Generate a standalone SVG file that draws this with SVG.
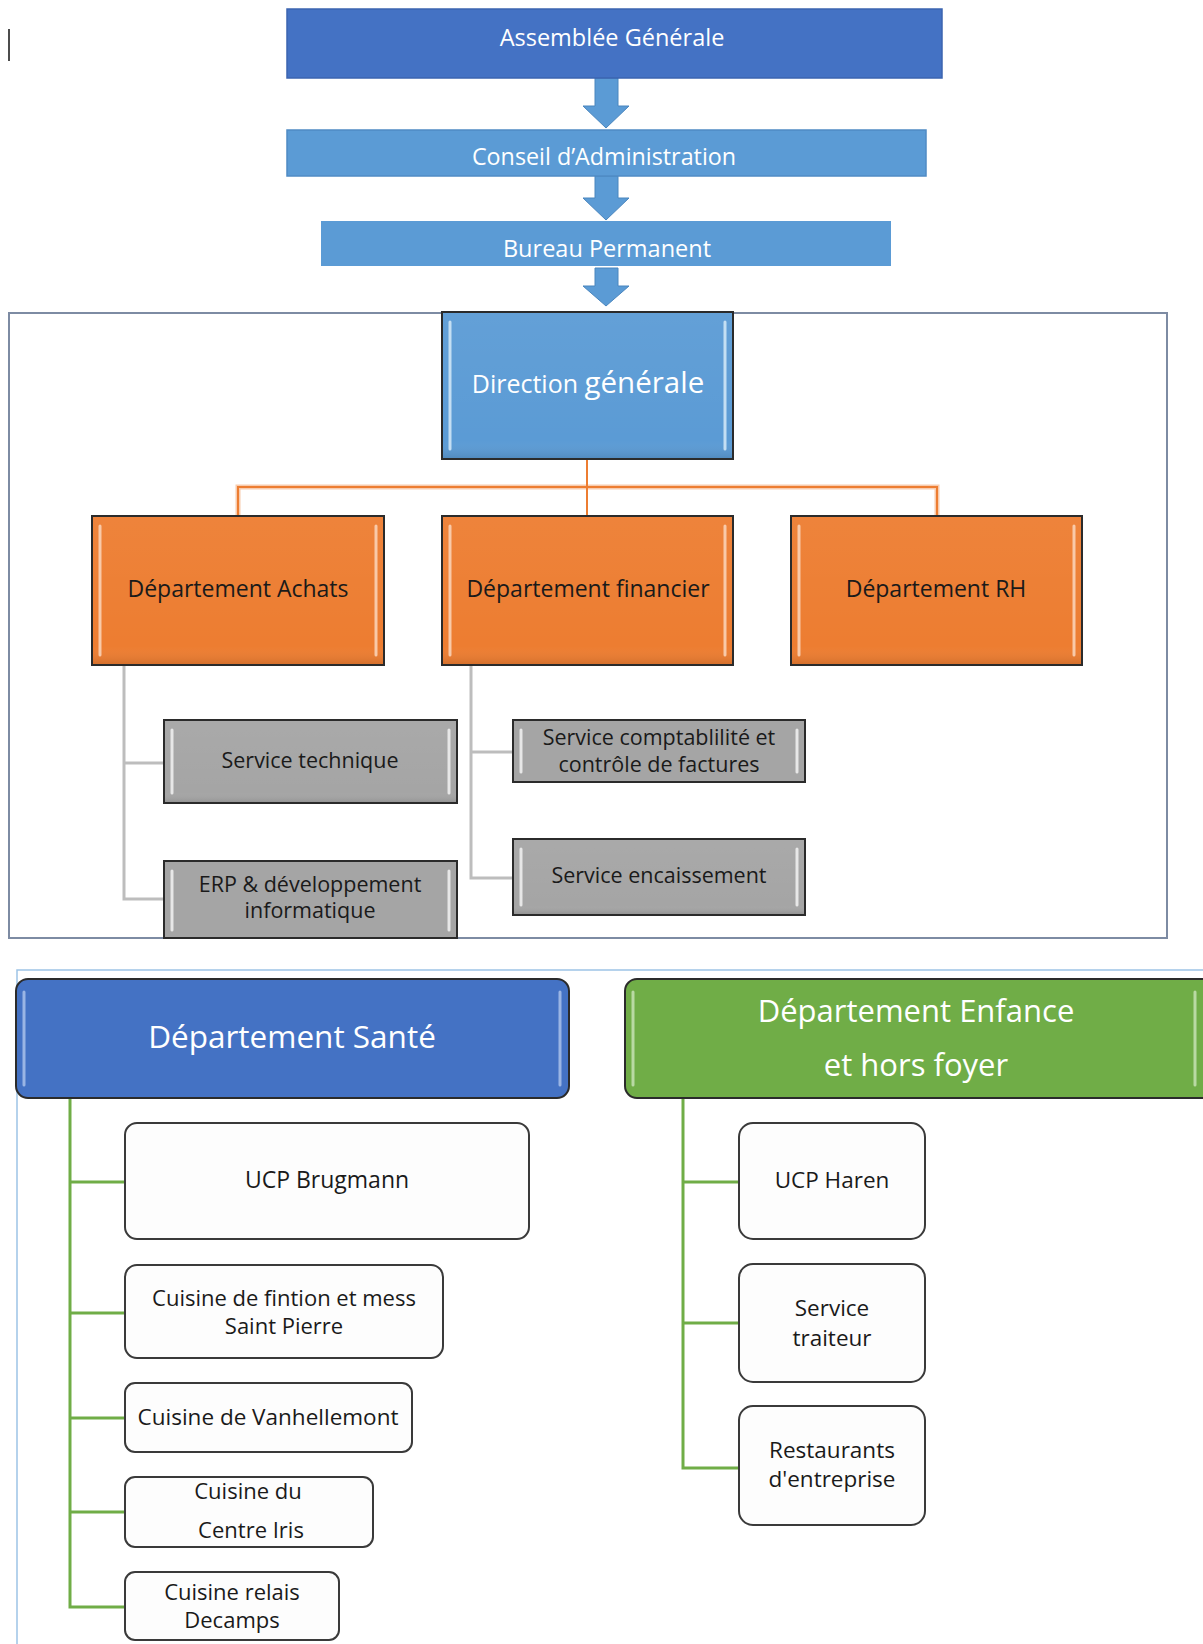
<svg xmlns="http://www.w3.org/2000/svg" width="1203" height="1644" viewBox="0 0 1203 1644">
<style>
text{font-family:"Open Sans","Noto Sans","Liberation Sans",sans-serif;text-anchor:middle}
.w{fill:#ffffff}
.k{fill:#1a1a1a}
.bev{fill:none;stroke-width:3;stroke-linecap:round;stroke-opacity:0.85}
.box{stroke:#2b2b2b;stroke-width:2}
.org{fill:#ED7D31}
.gry{fill:#A5A5A5}
.leaf{fill:#FDFDFD;stroke:#3a3a3a;stroke-width:2}
.arr{fill:#5B9BD5;stroke:#4A86BE;stroke-width:1}
</style>
<defs>
<linearGradient id="gloss" x1="0" y1="0" x2="0" y2="1">
<stop offset="0" stop-color="#ffffff" stop-opacity="0.05"/>
<stop offset="0.88" stop-color="#ffffff" stop-opacity="0"/>
<stop offset="1" stop-color="#000000" stop-opacity="0.1"/>
</linearGradient>
</defs>

<line x1="9" y1="29" x2="9" y2="61" stroke="#111" stroke-width="1.5"/>

<!-- frames -->
<rect x="9" y="313" width="1158" height="625" fill="none" stroke="#7D8BA3" stroke-width="2"/>
<polyline points="17,1644 17,970 1203,970" fill="none" stroke="#9DC3E6" stroke-width="1.5"/>

<g id="connectors">
<polygon class="arr" points="595,78 618,78 618,106 629,106 606,128 583,106 595,106"/>
<polygon class="arr" points="595,176 618,176 618,198 629,198 606,220 583,198 595,198"/>
<polygon class="arr" points="595,268 618,268 618,286 629,286 606,306 583,286 595,286"/>
<g fill="none" stroke-linejoin="miter">
<polyline points="238,516 238,487 937,487 937,516" stroke="#F8CBAD" stroke-width="5"/>
<polyline points="238,516 238,487 937,487 937,516" stroke="#ED7D31" stroke-width="2"/>
<line x1="587" y1="459" x2="587" y2="516" stroke="#ED7D31" stroke-width="2"/>
</g>
<g fill="none" stroke="#BDBDBD" stroke-width="3">
<polyline points="124,665 124,899 164,899"/>
<line x1="124" y1="763" x2="164" y2="763"/>
<polyline points="471,665 471,878 513,878"/>
<line x1="471" y1="752" x2="513" y2="752"/>
</g>
<g fill="none" stroke="#70AD47" stroke-width="3">
<polyline points="70,1098 70,1607 125,1607"/>
<line x1="70" y1="1182" x2="125" y2="1182"/>
<line x1="70" y1="1313" x2="125" y2="1313"/>
<line x1="70" y1="1418" x2="125" y2="1418"/>
<line x1="70" y1="1512" x2="125" y2="1512"/>
<polyline points="683,1098 683,1468 739,1468"/>
<line x1="683" y1="1182" x2="739" y2="1182"/>
<line x1="683" y1="1323" x2="739" y2="1323"/>
</g>
</g>

<g id="assemblee">
<rect x="287" y="9" width="655" height="69" fill="#4472C4" stroke="#3B64B0" stroke-width="1.5"/>
<text x="612" y="46" class="w" font-size="23.5">Assemblée Générale</text>
</g>
<g id="conseil">
<rect x="287" y="130" width="639" height="46" fill="#5B9BD5" stroke="#4F8BC4" stroke-width="1.5"/>
<text x="604" y="165" class="w" font-size="23.3">Conseil d’Administration</text>
</g>
<g id="bureau">
<rect x="321" y="221" width="570" height="45" fill="#5B9BD5"/>
<text x="607" y="257" class="w" font-size="23.5">Bureau Permanent</text>
</g>

<g id="direction">
<rect x="442" y="312" width="291" height="147" fill="#5B9BD5" class="box"/>
<rect x="443" y="313" width="289" height="145" fill="url(#gloss)"/>
<path class="bev" stroke="#D6EAF8" d="M450,322 V449 M725,322 V449"/>
<text x="588" y="393" class="w" font-size="25">Direction <tspan font-size="29.5">générale</tspan></text>
</g>

<g id="achats">
<rect x="92" y="516" width="292" height="149" class="org box"/>
<rect x="93" y="517" width="290" height="147" fill="url(#gloss)"/>
<path class="bev" stroke="#FAD6BC" d="M100,526 V655 M376,526 V655"/>
<text x="238" y="597" class="k" font-size="23">Département Achats</text>
</g>
<g id="financier">
<rect x="442" y="516" width="291" height="149" class="org box"/>
<rect x="443" y="517" width="289" height="147" fill="url(#gloss)"/>
<path class="bev" stroke="#FAD6BC" d="M450,526 V655 M725,526 V655"/>
<text x="588" y="597" class="k" font-size="23">Département financier</text>
</g>
<g id="rh">
<rect x="791" y="516" width="291" height="149" class="org box"/>
<rect x="792" y="517" width="289" height="147" fill="url(#gloss)"/>
<path class="bev" stroke="#FAD6BC" d="M799,526 V655 M1074,526 V655"/>
<text x="936" y="597" class="k" font-size="23">Département RH</text>
</g>

<g id="service-technique">
<rect x="164" y="720" width="293" height="83" class="gry box"/>
<rect x="165" y="721" width="291" height="81" fill="url(#gloss)"/>
<path class="bev" stroke="#F2F2F2" d="M172,730 V793 M449,730 V793"/>
<text x="310" y="768" class="k" font-size="21.5">Service technique</text>
</g>
<g id="erp">
<rect x="164" y="861" width="293" height="77" class="gry box"/>
<path class="bev" stroke="#F2F2F2" d="M172,871 V930 M449,871 V930"/>
<text x="310" y="892" class="k" font-size="21.5">ERP &amp; développement</text>
<text x="310" y="918" class="k" font-size="21.5">informatique</text>
</g>
<g id="comptabilite">
<rect x="513" y="720" width="292" height="62" class="gry box"/>
<path class="bev" stroke="#F2F2F2" d="M521,730 V772 M797,730 V772"/>
<text x="659" y="745" class="k" font-size="21.5">Service comptablilité et</text>
<text x="659" y="772" class="k" font-size="21.5">contrôle de factures</text>
</g>
<g id="encaissement">
<rect x="513" y="839" width="292" height="76" class="gry box"/>
<rect x="514" y="840" width="290" height="74" fill="url(#gloss)"/>
<path class="bev" stroke="#F2F2F2" d="M521,849 V905 M797,849 V905"/>
<text x="659" y="883" class="k" font-size="21.5">Service encaissement</text>
</g>

<g id="sante">
<rect x="16" y="979" width="553" height="119" rx="12" fill="#4472C4" class="box"/>
<path class="bev" stroke="#A9C1EA" d="M24,992 V1085 M560,992 V1085"/>
<text x="292" y="1048" class="w" font-size="31.5">Département Santé</text>
</g>
<g id="enfance">
<rect x="625" y="979" width="590" height="119" rx="12" fill="#70AD47" class="box"/>
<path class="bev" stroke="#C5E0B4" d="M633,992 V1085 M1195,992 V1085"/>
<text x="916" y="1022" class="w" font-size="31">Département Enfance</text>
<text x="916" y="1076" class="w" font-size="31">et hors foyer</text>
</g>

<g id="ucp-brugmann">
<rect x="125" y="1123" width="404" height="116" rx="12" class="leaf"/>
<text x="327" y="1188" class="k" font-size="23">UCP Brugmann</text>
</g>
<g id="cuisine-fintion">
<rect x="125" y="1265" width="318" height="93" rx="12" class="leaf"/>
<text x="284" y="1306" class="k" font-size="22">Cuisine de fintion et mess</text>
<text x="284" y="1334" class="k" font-size="22">Saint Pierre</text>
</g>
<g id="cuisine-vanhellemont">
<rect x="125" y="1383" width="287" height="69" rx="10" class="leaf"/>
<text x="268" y="1425" class="k" font-size="22.5">Cuisine de Vanhellemont</text>
</g>
<g id="cuisine-iris">
<rect x="125" y="1477" width="248" height="70" rx="10" class="leaf"/>
<text x="248" y="1499" class="k" font-size="22">Cuisine du</text>
<text x="251" y="1538" class="k" font-size="22">Centre Iris</text>
</g>
<g id="cuisine-decamps">
<rect x="125" y="1572" width="214" height="68" rx="10" class="leaf"/>
<text x="232" y="1600" class="k" font-size="22">Cuisine relais</text>
<text x="232" y="1628" class="k" font-size="22">Decamps</text>
</g>

<g id="ucp-haren">
<rect x="739" y="1123" width="186" height="116" rx="14" class="leaf"/>
<text x="832" y="1188" class="k" font-size="22.5">UCP Haren</text>
</g>
<g id="service-traiteur">
<rect x="739" y="1264" width="186" height="118" rx="14" class="leaf"/>
<text x="832" y="1316" class="k" font-size="22.5">Service</text>
<text x="832" y="1346" class="k" font-size="22.5">traiteur</text>
</g>
<g id="restaurants">
<rect x="739" y="1406" width="186" height="119" rx="14" class="leaf"/>
<text x="832" y="1458" class="k" font-size="22.5">Restaurants</text>
<text x="832" y="1487" class="k" font-size="22.5">d'entreprise</text>
</g>
</svg>
